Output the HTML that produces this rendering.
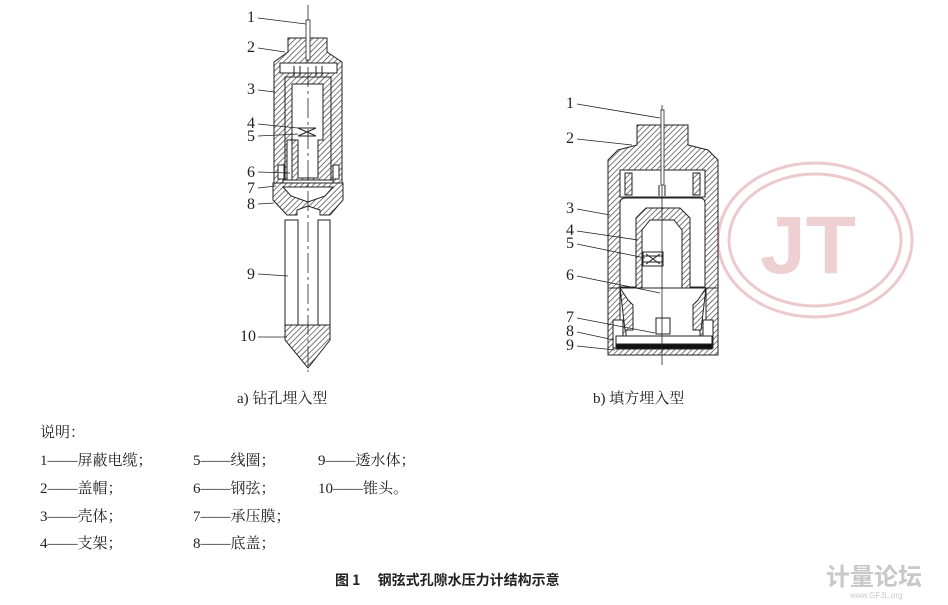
<!DOCTYPE html>
<html><head><meta charset="utf-8"><style>
html,body{margin:0;padding:0;background:#fff;}
svg{display:block;}
text{font-family:"Liberation Serif","Noto Serif CJK SC","Noto Sans CJK SC",serif;fill:#222;}
</style></head><body>
<svg width="948" height="605" viewBox="0 0 948 605" xmlns="http://www.w3.org/2000/svg">
<defs>
<pattern id="h" width="4" height="4" patternUnits="userSpaceOnUse" patternTransform="rotate(45)">
<rect width="4" height="4" fill="#fff"/><line x1="0" y1="0" x2="0" y2="4" stroke="#333" stroke-width="1.3"/>
</pattern>
</defs>
<g fill="none" stroke="#ecc9cc" stroke-width="3">
<ellipse cx="815" cy="240" rx="97" ry="77"/>
<ellipse cx="815" cy="240" rx="86" ry="66"/>
</g>
<text x="808" y="273" text-anchor="middle" font-size="82" style="fill:#eed0d3;font-family:'Liberation Sans',sans-serif;font-weight:bold">JT</text>

<g stroke="#222" stroke-width="1">
<path d="M288,38 H327 V52 L342,62 V183 H274 V62 L288,52 Z" fill="url(#h)"/>
<rect x="280" y="63" width="57" height="10" fill="#fff"/>
<rect x="285" y="77" width="46" height="106" fill="url(#h)"/>
<path d="M292,84 H323 V140 H318 V178 H298 V140 H292 Z" fill="#fff"/>
<rect x="287" y="140" width="5" height="40" fill="#fff"/>
<rect x="278" y="165" width="6" height="14" fill="#fff"/>
<rect x="333" y="165" width="6" height="14" fill="#fff"/>
<rect x="283" y="180" width="50" height="4" fill="#fff"/>
<path d="M273,183 H343 V200 L330,215 H320 V210 L308,206 L297,210 V215 H287 L273,200 Z" fill="url(#h)"/>
<path d="M283,187 H333 L325,196 L308,202 L291,196 Z" fill="#fff"/>
<rect x="285" y="220" width="13" height="105" fill="#fff"/>
<rect x="318" y="220" width="12" height="105" fill="#fff"/>
<path d="M285,325 H330 V340 L308,368 L285,340 Z" fill="url(#h)"/>
<line x1="294" y1="66" x2="294" y2="76"/><line x1="300" y1="66" x2="300" y2="76"/>
<line x1="316" y1="66" x2="316" y2="76"/><line x1="322" y1="66" x2="322" y2="76"/>
<path d="M298,128 L316,136 M298,136 L316,128 M298,128 H316 M298,136 H316" fill="none"/>
</g>
<line x1="308" y1="5" x2="308" y2="372" stroke="#222" stroke-width="0.8" stroke-dasharray="20,4,3,4"/>
<rect x="306" y="20" width="4" height="40" fill="#fff" stroke="#222" stroke-width="0.8"/>
<g font-size="16">
<text x="247" y="22">1</text><text x="247" y="52">2</text><text x="247" y="94">3</text>
<text x="247" y="128">4</text><text x="247" y="141">5</text><text x="247" y="177">6</text>
<text x="247" y="193">7</text><text x="247" y="209">8</text><text x="247" y="279">9</text>
<text x="240" y="341">10</text>
</g>
<g stroke="#222" stroke-width="0.8">
<line x1="258" y1="18" x2="306" y2="24"/><line x1="258" y1="48" x2="285" y2="52"/>
<line x1="258" y1="90" x2="275" y2="92"/><line x1="258" y1="124" x2="298" y2="128"/>
<line x1="258" y1="136" x2="298" y2="134"/><line x1="258" y1="172" x2="290" y2="173"/>
<line x1="258" y1="188" x2="276" y2="186"/><line x1="258" y1="204" x2="274" y2="203"/>
<line x1="258" y1="274" x2="288" y2="276"/><line x1="258" y1="337" x2="287" y2="337"/>
</g>

<g stroke="#222" stroke-width="1">
<path d="M637,125 H688 V145 L708,150 L718,160 V291 H608 V160 L618,150 L637,145 Z" fill="url(#h)"/>
<rect x="620" y="170" width="85" height="27" fill="#fff"/>
<rect x="625" y="173" width="7" height="22" fill="url(#h)"/>
<rect x="693" y="173" width="7" height="22" fill="url(#h)"/>
<path d="M620,287 V203 Q620,198 626,198 H699 Q705,198 705,203 V287 Z" fill="#fff"/>
<path d="M636,330 V218 L646,208 H680 L690,218 V330 Z" fill="url(#h)"/>
<path d="M642,332 V230 L650,220 H674 L682,230 V290 H666 V332 Z" fill="#fff"/>
<rect x="643" y="252" width="20" height="14" fill="#fff"/>
<path d="M643,256 H663 M643,262 H663 M646,254 L660,264 M646,264 L660,254" fill="none"/>
<path d="M608,288 H718 V355 H608 Z" fill="url(#h)"/>
<path d="M620,288 H706 V320 H700 V340 H626 V320 H620 Z" fill="#fff"/>
<path d="M620,288 L628,300 L633,305 V330 H625 Z" fill="url(#h)"/>
<path d="M706,288 L698,300 L693,305 V330 H701 Z" fill="url(#h)"/>
<rect x="613" y="320" width="10" height="28" fill="#fff"/>
<rect x="703" y="320" width="10" height="28" fill="#fff"/>
<rect x="616" y="336" width="96" height="8" fill="#fff"/>
<rect x="616" y="344" width="96" height="5" fill="#111"/>
<rect x="656" y="318" width="14" height="16" fill="#fff"/>
<line x1="659" y1="185" x2="659" y2="196"/><line x1="665" y1="185" x2="665" y2="196"/>
</g>
<line x1="662" y1="105" x2="662" y2="365" stroke="#222" stroke-width="0.8"/>
<rect x="661" y="110" width="3" height="75" fill="#fff" stroke="#222" stroke-width="0.8"/>
<g font-size="16">
<text x="566" y="108">1</text><text x="566" y="143">2</text><text x="566" y="213">3</text>
<text x="566" y="235">4</text><text x="566" y="248">5</text><text x="566" y="280">6</text>
<text x="566" y="322">7</text><text x="566" y="336">8</text><text x="566" y="350">9</text>
</g>
<g stroke="#222" stroke-width="0.8">
<line x1="577" y1="104" x2="660" y2="118"/><line x1="577" y1="139" x2="632" y2="145"/>
<line x1="577" y1="209" x2="610" y2="215"/><line x1="577" y1="231" x2="638" y2="240"/>
<line x1="577" y1="244" x2="645" y2="258"/><line x1="577" y1="276" x2="660" y2="293"/>
<line x1="577" y1="318" x2="655" y2="333"/><line x1="577" y1="332" x2="614" y2="340"/>
<line x1="577" y1="346" x2="615" y2="350"/>
</g>

<g font-size="15">
<text x="237" y="403">a) 钻孔埋入型</text>
<text x="593" y="403">b) 填方埋入型</text>
<text x="40" y="437">说明：</text>
<text x="40" y="465">1——屏蔽电缆；</text><text x="193" y="465">5——线圈；</text><text x="318" y="465">9——透水体；</text>
<text x="40" y="493">2——盖帽；</text><text x="193" y="493">6——钢弦；</text><text x="318" y="493">10——锥头。</text>
<text x="40" y="521">3——壳体；</text><text x="193" y="521">7——承压膜；</text>
<text x="40" y="548">4——支架；</text><text x="193" y="548">8——底盖；</text>
</g>
<text x="335" y="585" font-size="14" font-weight="bold" style="font-family:'Noto Sans CJK SC',sans-serif">图 1　 钢弦式孔隙水压力计结构示意</text>
<text x="826" y="585" font-size="24" font-weight="bold" style="fill:#c8c8c8;font-family:'Noto Sans CJK SC',sans-serif">计量论坛</text>
<text x="850" y="598" font-size="8" style="fill:#c8c8c8;font-family:'Liberation Sans',sans-serif">www.GFJL.org</text>
</svg>
</body></html>
